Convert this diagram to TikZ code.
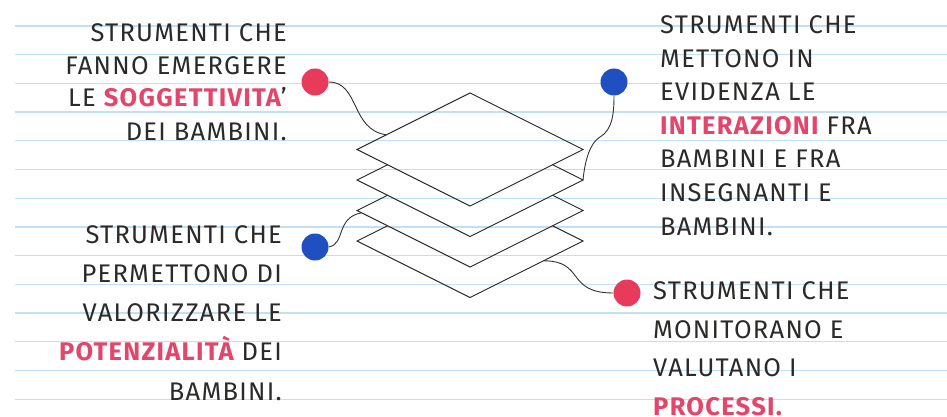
\documentclass[tikz,border=0pt]{standalone}
\usepackage{fontspec}
\setmainfont[LetterSpace=5]{Fira Sans}
\usepackage{tikz}
\usetikzlibrary{calc}
\definecolor{Ink}{HTML}{2B2A29}
\definecolor{Pink}{HTML}{E2466B}
\definecolor{DotRed}{HTML}{E83A5B}
\definecolor{DotBlue}{HTML}{1F4FC0}
\definecolor{Rule}{HTML}{BFE0F5}
\newcommand{\hl}[1]{\textcolor{Pink}{\bfseries #1}}

\begin{document}
\begin{tikzpicture}[x=1pt,y=-1pt,
    txt/.style={text=Ink,inner sep=0pt,font=\fontsize{25.5}{#1}\selectfont},
    txt/.default=33,
    dot/.style={circle,inner sep=0pt,minimum size=27pt},
    layer/.style={draw=black!85,line width=0.9pt,line join=miter},
    link/.style={draw=black!80,line width=0.9pt}
]
\useasboundingbox (0,0) rectangle (947,417);
% ruled paper
\foreach \k in {0,...,13}
  \draw[Rule,line width=1.2pt] (15,{26+28.7*\k}) -- (947,{26+28.7*\k});

% stack of sheets
\coordinate (L0) at (357,149.5);
\coordinate (T0) at (470,93);
\coordinate (R0) at (583,149.5);
\coordinate (B0) at (470,206);
\draw[layer] (L0) -- (T0) -- (R0) -- (B0) -- cycle;
\foreach \k in {1,2,3} {
  \pgfmathsetmacro{\yc}{149.5+30.5*\k}
  \coordinate (L\k) at (357,\yc);
  \coordinate (R\k) at (583,\yc);
  \coordinate (B\k) at (470,\yc+56.5);
  \draw[layer] (387.5,\yc-15.25) -- (L\k) -- (B\k) -- (R\k) -- (552.5,\yc-15.25);
}
\coordinate (tl-hook) at ($(L0)!0.26!(T0)$);
\coordinate (ll-hook) at ($(L2)!0.04!(B2)$);
\coordinate (lr-hook) at ($(B3)!0.65!(R3)$);

% dots
\node[dot,fill=DotRed] (soggA) at (315,82) {};
\node[dot,fill=DotBlue] (interB) at (614,82) {};
\node[dot,fill=DotBlue] (potenC) at (315,247) {};
\node[dot,fill=DotRed] (procD) at (627,293) {};

% connectors
\draw[link] (soggA.east) .. controls +(31,0) and +(-36,-5) .. (tl-hook);
\draw[link] (interB.south) .. controls (614,115) and (612,130) .. (600,137)
  .. controls (590,143) and (585,160) .. (R1);
\draw[link] (potenC.east) .. controls +(17,-3) and +(-26,5) .. (ll-hook);
\draw[link] (lr-hook) .. controls +(42,0) and +(-48,0) .. (procD.west);

% texts (base = last line)
\node[txt,align=right,anchor=base east] (soggT) at (287,140)
  {STRUMENTI CHE\\FANNO EMERGERE\\LE \hl{SOGGETTIVITA}’\\DEI BAMBINI.};
\node[txt=33.6,align=left,anchor=base west] (interT) at (660,235)
  {STRUMENTI CHE\\METTONO IN\\EVIDENZA LE\\\hl{INTERAZIONI} FRA\\BAMBINI E FRA\\INSEGNANTI E\\BAMBINI.};
\node[txt=39.2,align=right,anchor=base east] (potenT) at (282,400)
  {STRUMENTI CHE\\PERMETTONO DI\\VALORIZZARE LE\\\hl{POTENZIALITÀ} DEI\\BAMBINI.};
\node[txt=38.5,align=left,anchor=base west] (procT) at (653,415)
  {STRUMENTI CHE\\MONITORANO E\\VALUTANO I\\\hl{PROCESSI.}};
\end{tikzpicture}
\end{document}
